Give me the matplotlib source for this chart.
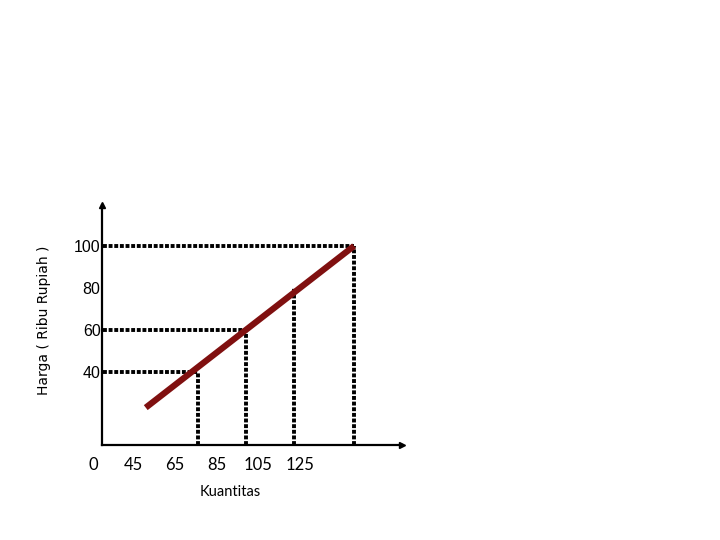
import matplotlib.pyplot as plt

# data
q_line = [51, 151]          # quantity at both ends of the red line
p_line = [23, 100]          # price at both ends of the red line
q_points = [76, 99, 122, 151]
p_points = [40, 60, 80, 100]
p_hlines = [40, 60, 100]    # levels that have a dotted guide to the y axis
y_ticks = [100, 80, 60, 40]
x_ticks = [45, 65, 85, 105, 125]

fig = plt.figure(figsize=(7.2, 5.4), dpi=100)
ax = fig.add_axes([102 / 720, 95 / 540, 300 / 720, 240 / 540])
ax.set_xlim(30, 174)
ax.set_ylim(5.2, 119.5)

dots = dict(color='black', lw=2.8, linestyle=(0, (1, 0.45)), dash_capstyle='butt')

# dotted guides
for q, p in zip(q_points, p_points):
    ax.plot([q, q], [5.2, p], **dots)
    if p in p_hlines:
        ax.plot([30.5, q], [p, p], **dots)

# red line
ax.plot(q_line, p_line, color='#801010', lw=4.5, solid_capstyle='butt')

# axes with arrow heads
for s in ['top', 'right']:
    ax.spines[s].set_visible(False)
for s in ['left', 'bottom']:
    ax.spines[s].set_linewidth(1.6)
ax.plot(1, 0, '>', color='black', ms=5, transform=ax.transAxes, clip_on=False)
ax.plot(0, 1, '^', color='black', ms=5, transform=ax.transAxes, clip_on=False)

ax.set_yticks(y_ticks)
ax.set_yticklabels([str(v) for v in y_ticks], fontsize=11.5, family='Liberation Sans')
ax.tick_params(axis='y', length=0, pad=1)
ax.set_xticks(x_ticks)
ax.set_xticklabels([str(v) for v in x_ticks], fontsize=12, family='Lato')
ax.tick_params(axis='x', length=0, pad=9)

ax.text(-0.03, -0.083, '0', transform=ax.transAxes, ha='center', va='center',
        fontsize=12, family='Lato')
ax.text(0.427, -0.196, 'Kuantitas', transform=ax.transAxes, ha='center', va='center',
        fontsize=10.5, family='Lato')
ax.text(-0.193, 0.52, 'Harga ( Ribu Rupiah )', transform=ax.transAxes, rotation=90,
        ha='center', va='center', fontsize=10, family='DejaVu Sans')

fig.savefig('out.png', dpi=100)
